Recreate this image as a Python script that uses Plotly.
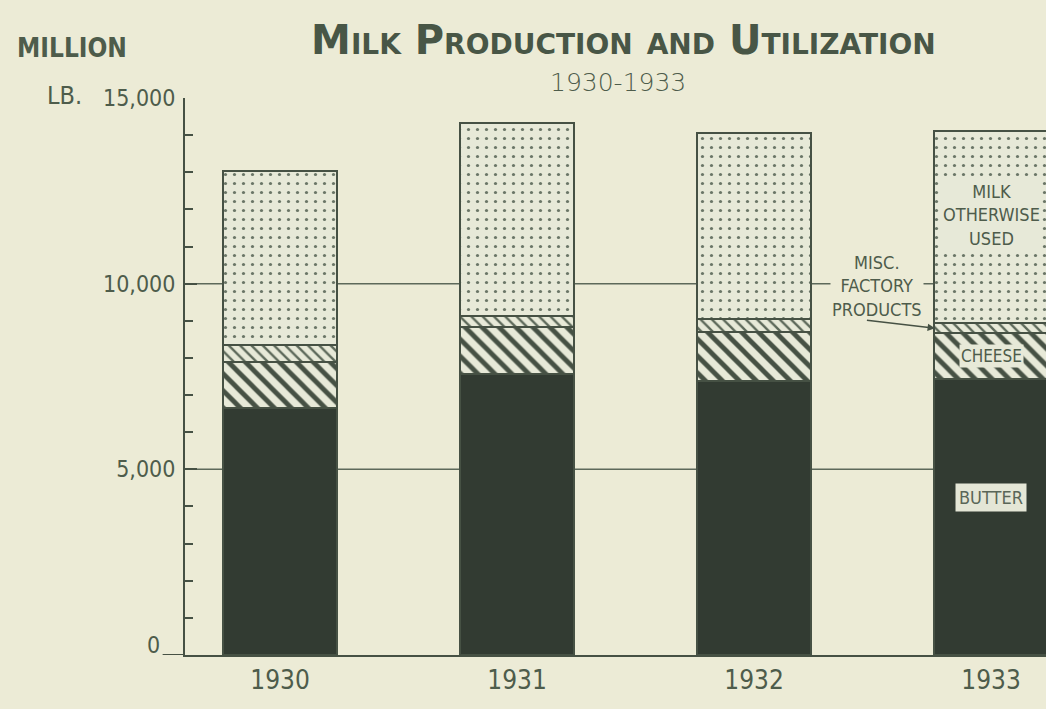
import plotly.graph_objects as go

# ---- data (million lb.) ----
years = ["1930", "1931", "1932", "1933"]
butter = [6650, 7580, 7380, 7420]
cheese = [1230, 1250, 1320, 1250]
misc_factory = [460, 300, 350, 270]
milk_otherwise = [4700, 5200, 5020, 5160]
y_tickvals = [5000, 10000, 15000]
y_ticktext = ["5,000", "10,000", "15,000"]
zero_label = "0"
grid_values = [5000, 10000]

# ---- styles ----
BG = "#ecebd6"
LIGHT = "#e7e9d8"
DARK = "#323b32"
EDGE = "#465144"
TEXT = "#4e5c4b"
COND = "DejaVu Sans Condensed, Liberation Sans Narrow, DejaVu Sans, sans-serif"
BAR_W = 0.481

fig = go.Figure()

fig.add_trace(go.Bar(
    x=years, y=butter, name="Butter", width=BAR_W,
    marker=dict(color=DARK, line=dict(color=EDGE, width=2)),
))
fig.add_trace(go.Bar(
    x=years, y=cheese, name="Cheese", width=BAR_W,
    marker=dict(color=LIGHT, line=dict(color=EDGE, width=2),
                pattern=dict(shape="\\", bgcolor=LIGHT, fgcolor=EDGE,
                             size=12, solidity=0.4, fillmode="replace")),
))
fig.add_trace(go.Bar(
    x=years, y=misc_factory, name="Misc. factory products", width=BAR_W,
    marker=dict(color=LIGHT, line=dict(color=EDGE, width=2),
                pattern=dict(shape="\\", bgcolor=LIGHT, fgcolor="#5d695a",
                             size=8, solidity=0.3, fillmode="replace")),
))
fig.add_trace(go.Bar(
    x=years, y=milk_otherwise, name="Milk otherwise used", width=BAR_W,
    marker=dict(color=LIGHT, line=dict(color=EDGE, width=2.5),
                pattern=dict(shape=".", bgcolor=LIGHT, fgcolor="#6a7667",
                             size=9, solidity=0.1, fillmode="replace")),
))

shapes = []
for g in grid_values:
    shapes.append(dict(type="line", xref="paper", x0=0, x1=1, yref="y", y0=g, y1=g,
                       line=dict(color="#5d695a", width=1.5), layer="below"))
# baseline extension to the left of the y axis
shapes.append(dict(type="line", xref="paper", x0=-0.026, x1=0, yref="y", y0=0, y1=0,
                   line=dict(color=EDGE, width=2)))

annotations = [
    dict(text="MILLION", xref="paper", yref="paper", x=-0.131, y=1.09,
         xanchor="center", yanchor="middle",
         showarrow=False, font=dict(family=COND, size=26, color=TEXT, weight="bold")),
    dict(text="LB.", xref="paper", yref="paper", x=-0.140, y=1.005,
         xanchor="center", yanchor="middle",
         showarrow=False, font=dict(family=COND, size=25, color=TEXT)),
    dict(text=zero_label, xref="paper", yref="paper", x=-0.037, y=0.018,
         xanchor="center", yanchor="middle",
         showarrow=False, font=dict(family=COND, size=23, color=TEXT)),
    dict(text="1930-1933", xref="paper", yref="paper", x=0.503, y=1.027,
         xanchor="center", yanchor="middle",
         showarrow=False, font=dict(family="DejaVu Sans", size=25, color=TEXT, weight=200)),
    dict(text="MILK<br>OTHERWISE<br>USED", x=3, y=11850, xref="x", yref="y",
         showarrow=False, bgcolor=LIGHT, borderpad=1,
         font=dict(family=COND, size=18, color=TEXT)),
    dict(text="MISC.<br>FACTORY<br>PRODUCTS", x=2.519, y=9940, xref="x", yref="y",
         showarrow=False, bgcolor=BG, borderpad=1,
         font=dict(family=COND, size=18, color=TEXT)),
    dict(text="", x=2.764, y=8800, xref="x", yref="y",
         ax=2.47, ay=9020, axref="x", ayref="y",
         showarrow=True, arrowhead=2, arrowsize=1, arrowwidth=1.5, arrowcolor=EDGE),
    dict(text="CHEESE", x=3, y=8040, xref="x", yref="y",
         showarrow=False, bgcolor=LIGHT, borderpad=1,
         font=dict(family=COND, size=17, color=TEXT)),
    dict(text="BUTTER", x=3, y=4230, xref="x", yref="y",
         showarrow=False, bgcolor="#e4e6d6", borderpad=3,
         font=dict(family=COND, size=18, color="#5a6658")),
]

fig.update_layout(
    width=1046, height=709,
    paper_bgcolor=BG, plot_bgcolor=BG,
    barmode="stack", bargap=0, showlegend=False,
    margin=dict(l=185, r=0, t=98, b=54),
    title=dict(text="Milk Production and Utilization", x=0.596, y=0.944,
               xref="container", yref="container", xanchor="center", yanchor="middle",
               font=dict(family="DejaVu Sans", size=40, color="#485646",
                         variant="small-caps", weight=600)),
    shapes=shapes, annotations=annotations,
    xaxis=dict(range=[-0.401, 3.232], showgrid=False, zeroline=False,
               showline=True, linecolor=EDGE, linewidth=2, ticks="",
               ticklabelstandoff=1,
               tickfont=dict(family=COND, size=26, color=TEXT)),
    yaxis=dict(range=[0, 15000], showgrid=False, zeroline=False,
               showline=True, linecolor=EDGE, linewidth=2,
               tickvals=y_tickvals, ticktext=y_ticktext,
               ticks="inside", ticklen=12, tickwidth=2, tickcolor=EDGE,
               ticklabelstandoff=3,
               minor=dict(dtick=1000, ticks="inside", ticklen=8, tickwidth=2,
                          tickcolor=EDGE, showgrid=False),
               tickfont=dict(family=COND, size=23, color=TEXT)),
)

fig.write_html("out.html", config={"displayModeBar": False},
               post_script="document.body.style.margin='0';document.body.style.overflow='hidden';")
